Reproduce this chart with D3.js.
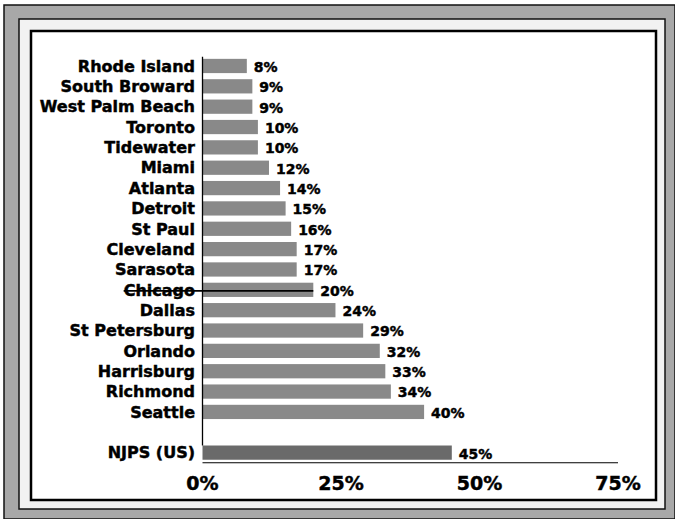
<!DOCTYPE html>
<html lang="en">
  <head>
    <meta charset="utf-8" />
    <script src="https://d3js.org/d3.v7.min.js"></script>
    <style>
      body {
        margin: 0;
        background: #fff;
      }
      svg text {
        font-family: "DejaVu Sans", sans-serif;
        font-weight: bold;
        fill: #000;
        stroke: #000;
        stroke-width: 0.45px;
      }
    </style>
  </head>
  <body>
    <svg width="675" height="519"></svg>
    <script>
      var cities = [
        "Rhode Island",
        "South Broward",
        "West Palm Beach",
        "Toronto",
        "Tidewater",
        "Miami",
        "Atlanta",
        "Detroit",
        "St Paul",
        "Cleveland",
        "Sarasota",
        "Chicago",
        "Dallas",
        "St Petersburg",
        "Orlando",
        "Harrisburg",
        "Richmond",
        "Seattle",
      ];
      var values = [8, 9, 9, 10, 10, 12, 14, 15, 16, 17, 17, 20, 24, 29, 32, 33, 34, 40];
      var nationalLabel = "NJPS (US)";
      var nationalValue = 45;
      var tickValues = [0, 25, 50, 75];

      var svg = d3.select("svg");

      // scanned page frame
      svg.append("rect").attr("x", 4).attr("y", 5).attr("width", 671).attr("height", 514)
        .attr("fill", "#a8a8a8").attr("stroke", "#111").attr("stroke-width", 1.5);
      svg.append("rect").attr("x", 19).attr("y", 19).attr("width", 646).attr("height", 490)
        .attr("fill", "#f2f2f2").attr("stroke", "#111").attr("stroke-width", 1.5);
      svg.append("rect").attr("x", 31).attr("y", 31).attr("width", 625).attr("height", 469)
        .attr("fill", "#fff").attr("stroke", "#000").attr("stroke-width", 2.5);

      var data = cities.map(function (c, i) {
        return { name: c, value: values[i] };
      });
      data.push({ name: nationalLabel, value: nationalValue });

      var x = d3.scaleLinear().domain([0, 75]).range([202.5, 618]);
      var y = d3
        .scaleBand()
        .domain(cities.concat(["gap", nationalLabel]))
        .range([55.8, 462.8])
        .paddingInner(0.3)
        .paddingOuter(0.15);

      var g = svg.append("g");

      g.selectAll("rect.bar")
        .data(data)
        .enter()
        .append("rect")
        .attr("class", "bar")
        .attr("x", x(0))
        .attr("y", function (d) { return y(d.name); })
        .attr("width", function (d) { return x(d.value) - x(0); })
        .attr("height", y.bandwidth())
        .attr("fill", function (d) { return d.name === nationalLabel ? "#6a6a6a" : "#898989"; });

      // vertical axis line
      g.append("line")
        .attr("x1", x(0)).attr("x2", x(0))
        .attr("y1", y(cities[0]) - 2)
        .attr("y2", y(nationalLabel))
        .attr("stroke", "#000").attr("stroke-width", 1.3);

      // horizontal axis line under the NJPS bar
      var axisY = y(nationalLabel) + y.bandwidth() + 3;
      g.append("line")
        .attr("x1", x(0)).attr("x2", x(75))
        .attr("y1", axisY).attr("y2", axisY)
        .attr("stroke", "#000").attr("stroke-width", 1.2);

      var labels = g.selectAll("text.cat")
        .data(data)
        .enter()
        .append("text")
        .attr("class", "cat")
        .attr("x", 195)
        .attr("y", function (d) { return y(d.name) + y.bandwidth() / 2; })
        .attr("dy", "0.36em")
        .attr("text-anchor", "end")
        .style("font-size", "16px")
        .text(function (d) { return d.name; });

      g.selectAll("text.val")
        .data(data)
        .enter()
        .append("text")
        .attr("class", "val")
        .attr("x", function (d) { return x(d.value) + 7; })
        .attr("y", function (d) { return y(d.name) + y.bandwidth() / 2; })
        .attr("dy", "0.42em")
        .style("font-size", "14px")
        .text(function (d) { return d.value + "%"; });

      // scan streak through the Chicago row
      labels.filter(function (d) { return d.name === "Chicago"; }).each(function (d) {
        var w = this.getComputedTextLength();
        var cy = y(d.name) + y.bandwidth() / 2 + 1;
        g.append("line")
          .attr("x1", 195 - w).attr("x2", x(d.value))
          .attr("y1", cy).attr("y2", cy)
          .attr("stroke", "#000").attr("stroke-width", 1.6);
      });

      g.selectAll("text.tick")
        .data(tickValues)
        .enter()
        .append("text")
        .attr("class", "tick")
        .attr("x", function (d) { return x(d); })
        .attr("y", 490)
        .attr("text-anchor", "middle")
        .style("font-size", "19px")
        .text(function (d) { return d + "%"; });
    </script>
  </body>
</html>
